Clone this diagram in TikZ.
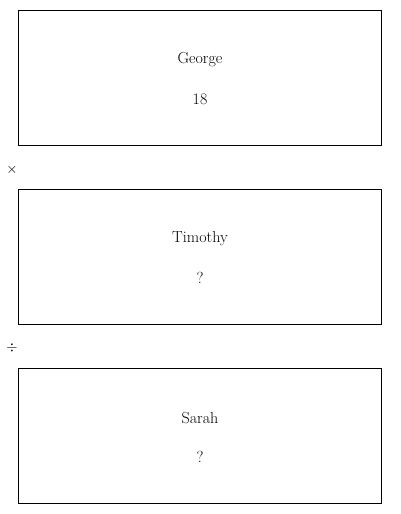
\documentclass[tikz,border=0pt]{standalone}
\usepackage{tikz}

\begin{document}
\begin{tikzpicture}[x=1pt, y=-1pt, line width=0.9pt,
    card/.style={draw, minimum width=363pt, minimum height=135pt, inner sep=0pt},
    lbl/.style={font=\fontsize{16}{19}\selectfont},
    op/.style={font=\fontsize{15}{18}\selectfont}]
    \useasboundingbox (0, 0) rectangle (400, 514);

    \node [card] (george) at (199.5, 77.5) {};
    \node [lbl] (georgename) at (200, 60) {George};
    \node [lbl] (georgeval) at (200, 99) {18};

    \node [op] (times) at (12, 170) {$\times$};

    \node [card] (timothy) at (199.5, 256.5) {};
    \node [lbl] (timothyname) at (200, 239) {Timothy};
    \node [lbl] (timothyval) at (200, 278) {?};

    \node [op] (divide) at (12, 348) {$\div$};

    \node [card] (sarah) at (199.5, 435.5) {};
    \node [lbl] (sarahname) at (200, 418) {Sarah};
    \node [lbl] (sarahval) at (200, 457) {?};
\end{tikzpicture}
\end{document}
